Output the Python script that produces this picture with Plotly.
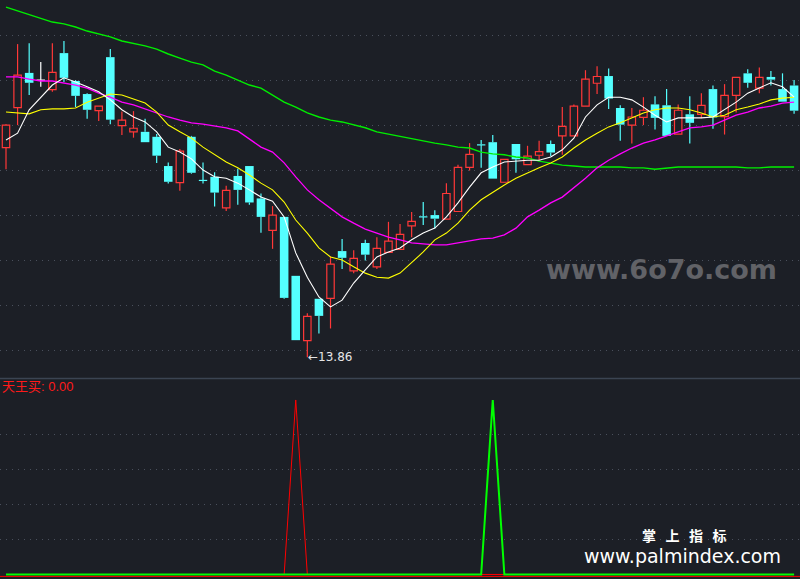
import plotly.graph_objects as go

# ---------------- data ----------------
days = list(range(69))

opens = [18.52, 19.41, 20.18, 20.02, 19.81, 20.62, 20.00, 19.71, 19.34, 20.53,
         19.01, 18.87, 18.87, 18.76, 18.11, 17.74, 18.76, 17.80, 17.87, 17.18,
         17.89, 18.11, 17.39, 16.68, 16.98, 15.67, 14.23, 15.16, 15.17, 16.22,
         15.78, 16.40, 15.87, 16.19, 16.26, 16.78, 16.99, 17.02, 16.93, 17.10,
         18.08, 18.59, 18.64, 17.75, 18.60, 18.14, 18.35, 18.60, 18.78, 18.78,
         19.44, 19.95, 20.11, 19.40, 19.02, 19.19, 19.48, 19.46, 18.82, 19.26,
         19.26, 19.82, 19.21, 19.68, 20.17, 19.84, 20.09, 19.82, 19.90]
highs = [19.04, 20.82, 20.84, 20.42, 20.84, 20.89, 20.02, 19.73, 19.44, 20.71,
         19.32, 19.33, 19.16, 18.82, 18.19, 18.49, 18.78, 18.19, 17.97, 17.67,
         18.05, 18.11, 17.50, 17.22, 16.98, 15.67, 14.84, 15.16, 16.10, 16.49,
         16.24, 16.47, 16.53, 16.87, 16.82, 17.09, 17.31, 17.13, 17.73, 18.14,
         18.62, 18.69, 18.80, 18.26, 18.60, 18.56, 18.67, 18.68, 19.42, 19.48,
         20.24, 20.33, 20.28, 19.46, 19.40, 19.64, 19.66, 19.82, 19.48, 19.66,
         19.73, 19.90, 19.93, 20.08, 20.26, 20.30, 20.22, 20.17, 20.02]
lows = [18.04, 19.02, 19.69, 19.87, 19.76, 19.98, 19.42, 19.16, 19.11, 19.04,
        18.80, 18.74, 18.64, 18.18, 17.72, 17.56, 17.94, 17.72, 17.21, 17.11,
        17.25, 17.25, 16.63, 16.27, 15.16, 14.24, 13.86, 14.39, 14.50, 15.82,
        15.73, 16.01, 15.82, 16.19, 16.26, 16.53, 16.80, 16.72, 16.93, 17.10,
        18.01, 18.07, 17.83, 17.75, 17.96, 18.14, 18.24, 18.33, 18.36, 18.78,
        19.44, 19.71, 19.38, 18.67, 18.61, 19.02, 18.92, 18.78, 18.82, 18.61,
        19.17, 18.94, 18.81, 19.30, 19.85, 19.73, 19.90, 19.54, 19.27]
closes = [19.02, 20.13, 19.96, 20.02, 20.19, 20.07, 19.67, 19.36, 19.44, 19.14,
          19.13, 18.95, 18.64, 18.34, 17.76, 18.44, 17.96, 17.79, 17.52, 17.57,
          17.58, 17.30, 16.98, 17.02, 15.18, 14.24, 14.77, 14.78, 15.93, 16.07,
          16.06, 16.14, 16.28, 16.44, 16.59, 16.88, 16.98, 16.94, 17.50, 18.08,
          18.37, 18.58, 17.83, 18.26, 18.26, 18.33, 18.43, 18.41, 18.99, 19.44,
          20.04, 20.10, 19.61, 19.03, 19.20, 19.35, 19.18, 18.78, 19.35, 19.07,
          19.46, 19.19, 19.68, 20.08, 19.96, 20.08, 20.03, 19.54, 19.34]

ma_white = [18.69, 18.84, 19.36, 19.64, 19.91, 20.07, 19.98, 19.87, 19.76, 19.58,
            19.36, 19.20, 19.09, 18.87, 18.53, 18.42, 18.27, 18.02, 17.87, 17.84,
            17.73, 17.58, 17.42, 17.33, 16.98, 16.18, 15.64, 15.20, 14.98, 15.13,
            15.51, 15.80, 16.09, 16.20, 16.29, 16.47, 16.62, 16.73, 16.98, 17.29,
            17.64, 17.96, 18.09, 18.20, 18.22, 18.24, 18.24, 18.31, 18.47, 18.73,
            19.20, 19.47, 19.64, 19.64, 19.58, 19.42, 19.24, 19.09, 19.18, 19.18,
            19.18, 19.20, 19.36, 19.53, 19.73, 19.84, 19.96, 19.87, 19.64]
ma_yellow = [19.31, 19.29, 19.27, 19.36, 19.38, 19.38, 19.40, 19.53, 19.62, 19.71,
             19.69, 19.60, 19.51, 19.31, 19.02, 18.87, 18.73, 18.53, 18.36, 18.20,
             18.07, 17.91, 17.73, 17.58, 17.31, 16.91, 16.62, 16.29, 16.09, 16.02,
             15.87, 15.73, 15.64, 15.62, 15.73, 15.96, 16.20, 16.47, 16.62, 16.84,
             17.13, 17.36, 17.53, 17.69, 17.84, 17.96, 18.07, 18.18, 18.31, 18.51,
             18.69, 18.84, 18.98, 19.07, 19.18, 19.29, 19.36, 19.40, 19.40, 19.36,
             19.29, 19.20, 19.24, 19.36, 19.42, 19.49, 19.58, 19.62, 19.64]
ma_magenta = [20.09, 20.09, 20.04, 20.00, 20.00, 19.96, 19.91, 19.84, 19.73, 19.64,
              19.53, 19.47, 19.38, 19.29, 19.20, 19.13, 19.07, 19.04, 19.00, 18.96,
              18.89, 18.71, 18.53, 18.42, 18.18, 17.87, 17.58, 17.36, 17.18, 16.98,
              16.84, 16.71, 16.62, 16.53, 16.47, 16.40, 16.38, 16.36, 16.36, 16.40,
              16.44, 16.49, 16.51, 16.58, 16.73, 16.98, 17.13, 17.29, 17.42, 17.62,
              17.84, 18.07, 18.24, 18.38, 18.51, 18.62, 18.69, 18.78, 18.87, 18.96,
              18.98, 19.02, 19.13, 19.24, 19.31, 19.40, 19.44, 19.51, 19.53]
ma_green = [21.64, 21.56, 21.47, 21.40, 21.31, 21.27, 21.20, 21.11, 21.04, 20.98,
            20.89, 20.84, 20.78, 20.71, 20.60, 20.51, 20.42, 20.36, 20.22, 20.13,
            20.02, 19.91, 19.84, 19.69, 19.53, 19.42, 19.29, 19.20, 19.13, 19.09,
            19.02, 18.96, 18.87, 18.82, 18.76, 18.71, 18.67, 18.62, 18.58, 18.53,
            18.51, 18.42, 18.38, 18.36, 18.31, 18.29, 18.22, 18.18, 18.13, 18.11,
            18.09, 18.09, 18.09, 18.09, 18.07, 18.07, 18.04, 18.07, 18.09, 18.09,
            18.09, 18.09, 18.09, 18.09, 18.07, 18.07, 18.09, 18.09, 18.09]

signal_buy = [0, 0, 0, 0, 0, 0, 0, 0, 0, 0, 0, 0, 0, 0, 0, 0, 0, 0, 0, 0,
              0, 0, 0, 0, 0, 1, 0, 0, 0, 0, 0, 0, 0, 0, 0, 0, 0, 0, 0, 0,
              0, 0, 0, 0, 0, 0, 0, 0, 0, 0, 0, 0, 0, 0, 0, 0, 0, 0, 0, 0,
              0, 0, 0, 0, 0, 0, 0, 0, 0]
signal_sell = [0, 0, 0, 0, 0, 0, 0, 0, 0, 0, 0, 0, 0, 0, 0, 0, 0, 0, 0, 0,
               0, 0, 0, 0, 0, 0, 0, 0, 0, 0, 0, 0, 0, 0, 0, 0, 0, 0, 0, 0,
               0, 0, 1, 0, 0, 0, 0, 0, 0, 0, 0, 0, 0, 0, 0, 0, 0, 0, 0, 0,
               0, 0, 0, 0, 0, 0, 0, 0, 0]

low_label = "←13.86"
low_index = 26
low_value = 13.86
signal_label = "天王买: 0.00"
grid_main = [14.02, 15.02, 16.02, 17.02, 18.02, 19.02, 20.02, 21.02]
grid_sub = [0.2, 0.4, 0.6, 0.8]

# ---------------- styles ----------------
BG = "#1c1f26"
RED = "#ff3838"
CYAN = "#54ffff"
WHITE = "#ffffff"
GRID = "#4a505c"
HALF = 0.36

fig = go.Figure()

# wicks and doji marks, grouped by colour
groups = {RED: ([], []), CYAN: ([], []), WHITE: ([], [])}
up_x, up_base, up_h = [], [], []
dn_x, dn_base, dn_h = [], [], []
for i, o, h, l, c in zip(days, opens, highs, lows, closes):
    if c > o:
        col = RED
    elif c < o:
        col = CYAN
    else:
        col = WHITE
    top, bot = max(o, c), min(o, c)
    xs, ys = groups[col]
    xs += [i, i, None, i, i, None]
    ys += [h, top, None, bot, l, None]
    if top - bot <= 0.02:
        xs += [i - HALF, i + HALF, None]
        ys += [c, c, None]
        continue
    if col == RED:
        up_x.append(i); up_base.append(bot); up_h.append(top - bot)
    else:
        dn_x.append(i); dn_base.append(bot); dn_h.append(top - bot)

fig.add_trace(go.Bar(x=up_x, y=up_h, base=up_base, width=0.64,
                     marker=dict(color=BG, line=dict(color=RED, width=1.2)),
                     hoverinfo="skip", xaxis="x", yaxis="y"))
fig.add_trace(go.Bar(x=dn_x, y=dn_h, base=dn_base, width=0.74,
                     marker=dict(color=CYAN, line=dict(width=0)),
                     hoverinfo="skip", xaxis="x", yaxis="y"))
for col, (xs, ys) in groups.items():
    fig.add_trace(go.Scatter(x=xs, y=ys, mode="lines",
                             line=dict(color=col, width=1.2),
                             hoverinfo="skip", xaxis="x", yaxis="y"))

# moving averages
for vals, col, w in [(ma_green, "#00ee00", 1.4), (ma_magenta, "#ff00ff", 1.3),
                     (ma_yellow, "#ffff00", 1.1), (ma_white, "#ffffff", 1.1)]:
    fig.add_trace(go.Scatter(x=days, y=vals, mode="lines",
                             line=dict(color=col, width=w),
                             hoverinfo="skip", xaxis="x", yaxis="y"))

# lower indicator panel
fig.add_trace(go.Scatter(x=days, y=signal_buy, mode="lines",
                         line=dict(color="#ff0000", width=1),
                         hoverinfo="skip", xaxis="x2", yaxis="y2"))
fig.add_trace(go.Scatter(x=days, y=signal_sell, mode="lines",
                         line=dict(color="#00ff00", width=2),
                         hoverinfo="skip", xaxis="x2", yaxis="y2"))

xr = [-0.518, 68.51]
fig.update_layout(
    width=800, height=579,
    margin=dict(l=0, r=0, t=0, b=0),
    paper_bgcolor=BG, plot_bgcolor=BG,
    showlegend=False, barmode="overlay",
    xaxis=dict(range=xr, showgrid=False, zeroline=False, showticklabels=False,
               anchor="y", domain=[0, 1]),
    yaxis=dict(range=[13.4, 21.8], domain=[0.3472, 1], tickvals=grid_main,
               showticklabels=False, zeroline=False, showgrid=True,
               gridcolor=GRID, griddash="1px,5px", gridwidth=1),
    xaxis2=dict(range=xr, showgrid=False, zeroline=False, showticklabels=False,
                anchor="y2", matches="x", domain=[0, 1]),
    yaxis2=dict(range=[-0.026, 1.12], domain=[0, 0.3454], tickvals=grid_sub,
                showticklabels=False, zeroline=False, showgrid=True,
                gridcolor=GRID, griddash="1px,5px", gridwidth=1),
    shapes=[
        dict(type="line", xref="paper", yref="paper", x0=0, x1=1,
             y0=0.3465, y1=0.3465, line=dict(color="#3b4452", width=1.5)),
        dict(type="line", xref="paper", yref="paper", x0=0, x1=1,
             y0=0.0045, y1=0.0045, line=dict(color="#ff0000", width=1)),
    ],
    annotations=[
        dict(x=low_index, y=low_value, xref="x", yref="y", text=low_label,
             showarrow=False, xanchor="left", yanchor="middle", xshift=-1,
             font=dict(family="DejaVu Sans", size=12, color="#e6e6e6")),
        dict(x=0.0, y=0.3325, xref="paper", yref="paper", text=signal_label,
             showarrow=False, xanchor="left", yanchor="middle",
             font=dict(family="Liberation Sans, Noto Sans CJK SC", size=13,
                       color="#ff1a1a")),
        dict(x=0.827, y=0.535, xref="paper", yref="paper", text="www.6o7o.com",
             showarrow=False, xanchor="center", yanchor="middle",
             font=dict(family="DejaVu Sans", size=27, color="#616267",
                       weight="bold")),
        dict(x=0.856, y=0.0765, xref="paper", yref="paper",
             text="掌&nbsp;&nbsp;&nbsp;上&nbsp;&nbsp;&nbsp;指&nbsp;&nbsp;&nbsp;标",
             showarrow=False, xanchor="center", yanchor="middle",
             font=dict(family="Noto Sans CJK SC", size=14, color="#ffffff",
                       weight="bold")),
        dict(x=0.8535, y=0.039, xref="paper", yref="paper",
             text="www.palmindex.com", showarrow=False,
             xanchor="center", yanchor="middle",
             font=dict(family="DejaVu Sans", size=19, color="#ffffff")),
    ],
)

fig.write_html("out.html", config={"displayModeBar": False},
               post_script="document.body.style.margin='0';document.body.style.overflow='hidden';")
